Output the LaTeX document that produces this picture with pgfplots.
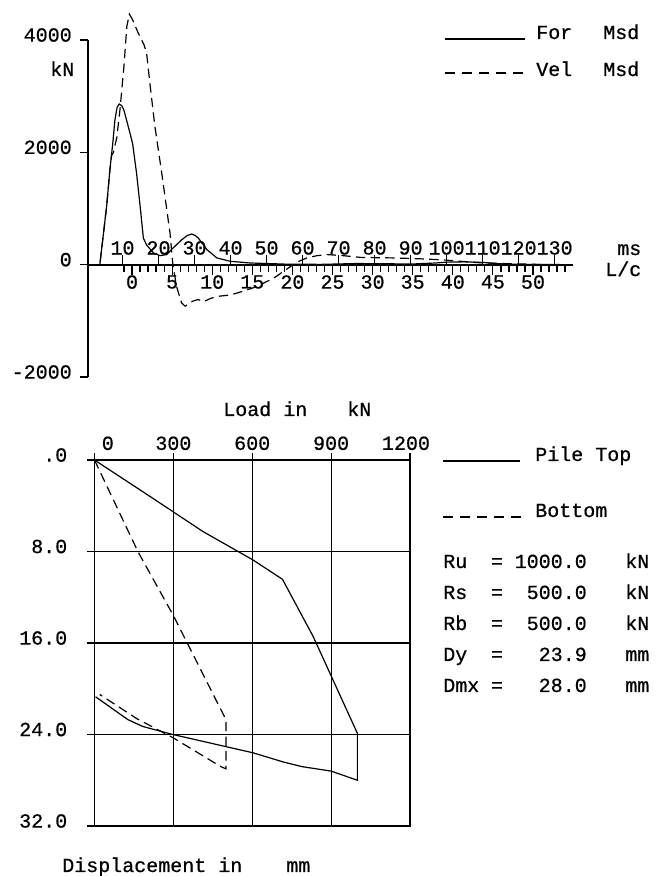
\documentclass[border=0pt]{standalone}
\usepackage{pgfplots}
\pgfplotsset{compat=1.18}
\usepackage{fontspec}
\setmainfont{Liberation Mono}[BoldFont={Liberation Mono}, BoldFeatures={FakeBold=0.7}]
\begin{document}
\fontsize{15}{18}\selectfont
\begin{tikzpicture}[x=0.75pt,y=0.75pt,font=\fontsize{15}{18}\selectfont\bfseries]
\useasboundingbox (0,0) rectangle (657,876);
\pgfplotsset{
  plotter/.style={line width=0.9pt, black},
  dashplot/.style={line width=0.9pt, black, dash pattern=on 7pt off 4pt},
}
% ---------------- top: force and velocity ----------------
\begin{axis}[at={(66pt,374.25pt)}, anchor=south west, scale only axis,
  width=363.75pt, height=252.75pt,
  xmin=0.42, xmax=135.1, ymin=-2000, ymax=4000, clip=false,
  axis x line=none, axis y line=left,
  y axis line style={-, line width=0.9pt},
  ytick={-2000,0,2000,4000}, yticklabels={-2000,0,2000,4000},
  tick align=outside, major tick length=6pt,
  every tick/.style={black, line width=0.9pt},
  yticklabel style={anchor=east, inner sep=0pt, yshift=3.75pt, xshift=-6pt},
]
\addplot[plotter] coordinates {
(0.5,0) (3.7,0) (5.6,1040) (6.5,1690) (7.3,2160) (7.9,2580) (8.5,2800) (9.1,2860)
(9.8,2830) (10.4,2750) (11.6,2460) (12.8,2160) (13.9,1630) (14.9,1040) (15.8,470)
(16.7,350) (18.6,210) (20.4,160) (22.3,180) (24.1,300) (26.4,440) (28.0,520)
(29.2,545) (30.2,520) (31.1,470) (33.4,270) (36.2,120) (39.9,60) (45.4,30)
(55,10) (65,5) (75,20) (85,15) (90,10) (97,30) (100,45) (105,50) (110,40)
(115,15) (120,5) (135,0)
};
\addplot[dashplot] coordinates {
(0.5,0) (3.7,0) (5.6,1040) (6.5,1690) (7.0,1950) (7.5,2000) (8.0,2150) (8.4,2250)
(9.3,2760) (10.4,3530) (11.2,4240) (11.9,4460) (12.8,4360) (14.4,4120) (16.0,3910)
(16.7,3760) (17.6,3230) (19.0,2460) (20.9,1630) (22.3,980) (23.2,560) (23.7,200)
(24.0,0) (25.0,-385) (26.4,-680) (27.4,-740) (29.5,-650) (31.0,-620) (32.5,-660)
(34.5,-600) (37,-560) (40,-540) (43.6,-470) (46,-420) (49.1,-330) (52,-240)
(54.7,-120) (57.4,0) (59,60) (61.2,120) (64,160) (66.7,180) (71.3,160) (76,130)
(80,125) (85.2,120) (90,110) (94.5,100) (100,80) (104,60) (109,35) (113,25)
(118,15) (122.3,10) (128,0) (135,0)
};
\end{axis}
% ms scale (ticks and labels above the zero line)
\begin{axis}[at={(66pt,458.25pt)}, anchor=north west, scale only axis,
  width=363.75pt, height=15pt,
  xmin=0.42, xmax=135.1, ymin=0, ymax=1,
  axis x line*=top, axis y line=none,
  x axis line style={-, line width=0.9pt},
  xtick={10,20,...,130},
  xticklabels={10,20,30,40,50,60,70,80,90,100,110,120,130},
  ytick=\empty,
  tick align=outside, major tick length=7.5pt,
  every tick/.style={black, line width=0.9pt},
  xticklabel style={anchor=south, inner sep=0pt},
]
\end{axis}
% L/c scale (ticks and labels below the zero line)
\begin{axis}[at={(66pt,458.25pt)}, anchor=south west, scale only axis,
  width=363.75pt, height=15pt,
  xmin=-5.49, xmax=54.99, ymin=0, ymax=1,
  axis x line*=bottom, axis y line=none,
  x axis line style={draw=none},
  xtick={0,5,...,50}, xticklabels={0,5,10,15,20,25,30,35,40,45,50},
  minor xtick={-1,0,...,54},
  ytick=\empty,
  tick align=outside, major tick length=7.5pt, minor tick length=5.25pt,
  every tick/.style={black, line width=0.9pt},
  xticklabel style={anchor=north, inner sep=0pt},
]
\end{axis}
% ---------------- bottom: load displacement ----------------
\begin{axis}[at={(70.875pt,37.5pt)}, anchor=south west, scale only axis,
  width=236.6pt, height=274.5pt,
  xmin=0, xmax=1200, ymin=0, ymax=32, y dir=reverse,
  axis line style={line width=0.9pt},
  xtick={0,300,600,900,1200},
  xticklabels={{\hspace*{20pt}0},300,600,900,{1200\hspace*{6pt}}},
  ytick={0,8,16,24,32}, yticklabels={.0,8.0,16.0,24.0,32.0},
  xtick pos=upper, xticklabel pos=upper, ytick pos=left, yticklabel pos=left,
  tick align=outside, major tick length=5.25pt,
  every tick/.style={black, line width=0.9pt},
  grid=major, grid style={black, line width=0.9pt},
  yticklabel style={anchor=east, inner sep=0pt, yshift=3.75pt, xshift=-15pt},
  xticklabel style={anchor=south, inner sep=0pt, yshift=2pt},
]
\addplot[plotter] coordinates {
(0,0) (222,3.35) (413,6.26) (603,8.74) (715,10.43) (832,15.44) (1000,23.9)
(1000,28.0) (900,27.2) (787,26.8) (718,26.4) (603,25.6) (298,24.0) (184,23.3)
(127,22.7) (4,20.7)
};
\addplot[dashplot] coordinates {
(0,0) (165,8.0) (300,13.6) (500,22.7) (500,27.0) (480,26.8) (300,24.3)
(160,22.6) (20,20.5)
};
\end{axis}
% ---------------- texts and legends ----------------
\node[anchor=base west, inner sep=0pt] at (50,800) {kN};
\draw[line width=0.9pt] (445,837) -- (525,837);
\node[anchor=base west, inner sep=0pt] at (536,837) {For};
\node[anchor=base west, inner sep=0pt] at (603,837) {Msd};
\draw[line width=0.9pt, dash pattern=on 7.5pt off 5.25pt] (445,803) -- (523,803);
\node[anchor=base west, inner sep=0pt] at (536,800) {Vel};
\node[anchor=base west, inner sep=0pt] at (603,800) {Msd};
\node[anchor=base west, inner sep=0pt] at (617,621) {ms};
\node[anchor=base west, inner sep=0pt] at (605,600) {L/c};
\node[anchor=base west, inner sep=0pt] at (223,460) {Load in};
\node[anchor=base west, inner sep=0pt] at (347,460) {kN};
\node[anchor=base west, inner sep=0pt] at (62,4) {Displacement in};
\node[anchor=base west, inner sep=0pt] at (286,4) {mm};
\draw[line width=0.9pt] (443,415) -- (520,415);
\node[anchor=base west, inner sep=0pt] at (535,415) {Pile Top};
\draw[line width=0.9pt, dash pattern=on 7.5pt off 5.25pt] (443,359) -- (521,359);
\node[anchor=base west, inner sep=0pt] at (535,359) {Bottom};
\foreach \n/\v/\u/\yy in {Ru/1000.0/kN/308, Rs/500.0/kN/277, Rb/500.0/kN/246, Dy/23.9/mm/215, Dmx/28.0/mm/184}{
  \node[anchor=base west, inner sep=0pt] at (443,\yy) {\n};
  \node[anchor=base, inner sep=0pt] at (497,\yy) {=};
  \node[anchor=base east, inner sep=0pt] at (587,\yy) {\v};
  \node[anchor=base west, inner sep=0pt] at (625,\yy) {\u};
}
\end{tikzpicture}
\end{document}
